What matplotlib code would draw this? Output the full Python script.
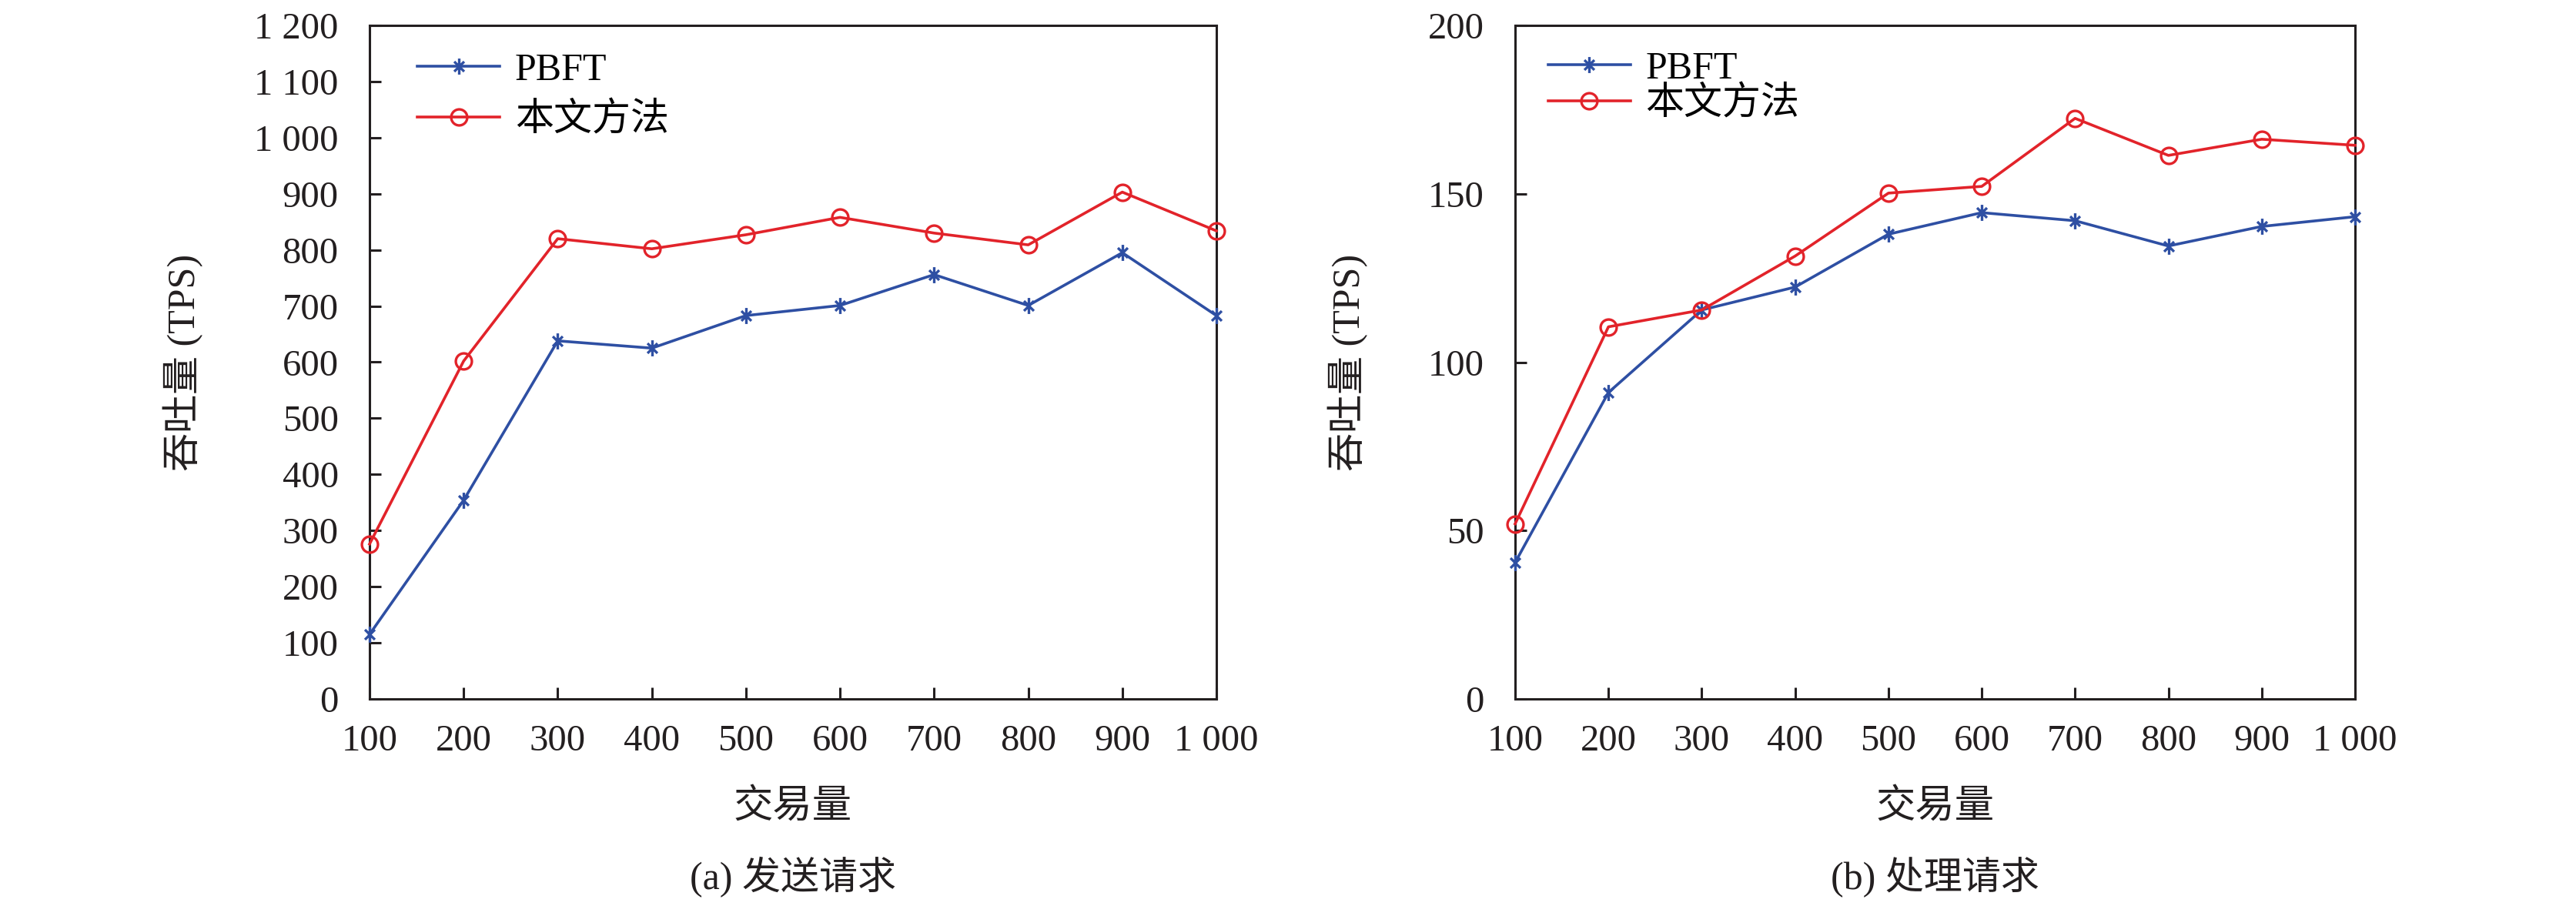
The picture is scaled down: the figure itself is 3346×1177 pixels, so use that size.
import matplotlib
matplotlib.use("Agg")
import matplotlib.pyplot as plt
from matplotlib.path import Path
from matplotlib.ticker import FuncFormatter

plt.rcParams['font.family'] = ['Liberation Serif', 'Noto Sans CJK SC']
plt.rcParams['font.size'] = 35

# data
x_tx = [100, 200, 300, 400, 500, 600, 700, 800, 900, 1000]

# (a) send requests
pbft_send = [115, 354, 638, 625, 683, 701, 756, 701, 795, 683]
ours_send = [276, 602, 820, 802, 827, 858, 830, 809, 903, 834]

# (b) process requests
pbft_proc = [40.5, 91, 115.5, 122.3, 138, 144.4, 142, 134.5, 140.3, 143.2]
ours_proc = [52, 110.5, 115.5, 131.5, 150.2, 152.2, 172.4, 161.4, 166.2, 164.4]

labels = ['PBFT', '本文方法']
subtitles = ['(a) 发送请求', '(b) 处理请求']
xlabel = '交易量'
ylabel = '吞吐量 (TPS)'

BLUE = '#2E4FA3'
RED = '#E2232A'
INK = '#231f20'

# excel style star: vertical bar plus an x
d = 0.62
star = Path([(0, -1), (0, 1), (-d, -d), (d, d), (-d, d), (d, -d)],
            [Path.MOVETO, Path.LINETO, Path.MOVETO, Path.LINETO, Path.MOVETO, Path.LINETO])


def thousands(v, pos):
    v = int(round(v))
    if v >= 1000:
        return f"{v // 1000} {v % 1000:03d}"
    return str(v)


fig = plt.figure(figsize=(33.46, 11.77), dpi=100)
ax1 = fig.add_axes([480 / 3346, 1 - 908 / 1177, 1100 / 3346, 875 / 1177])
ax2 = fig.add_axes([1968 / 3346, 1 - 908 / 1177, 1091 / 3346, 875 / 1177])

panels = [
    (ax1, pbft_send, ours_send, (0, 1200), range(0, 1201, 100), -0.196, (0.0564, 0.96), 0.37),
    (ax2, pbft_proc, ours_proc, (0, 200), range(0, 201, 50), -0.175, (0.039, 0.962), 0.0),
]

for i, (ax, pbft, ours, ylim, yt, ylab_x, leg_pos, lspace) in enumerate(panels):
    ax.plot(x_tx, pbft, color=BLUE, lw=2.6, marker=star, ms=15, mew=2.4,
            label=labels[0], clip_on=False, zorder=3)
    ax.plot(x_tx, ours, color=RED, lw=2.6, marker='o', ms=15, mew=2.4,
            mfc='none', label=labels[1], clip_on=False, zorder=4)

    ax.set_xlim(100, 1000)
    ax.set_ylim(*ylim)
    ax.set_xticks(x_tx)
    ax.set_yticks(list(yt))
    ax.xaxis.set_major_formatter(FuncFormatter(thousands))
    ax.yaxis.set_major_formatter(FuncFormatter(thousands))

    for s in ax.spines.values():
        s.set_linewidth(2.2)
        s.set_color(INK)
    ax.tick_params(axis='both', direction='in', length=10.5, width=2.2,
                   colors=INK, labelcolor=INK, labelsize=35)
    ax.tick_params(axis='x', pad=24)
    ax.tick_params(axis='y', pad=29)

    ax.set_ylabel(ylabel, fontsize=36, color=INK)
    ax.yaxis.set_label_coords(ylab_x, 0.5)
    ax.set_xlabel(xlabel, fontsize=37, color=INK)
    ax.xaxis.set_label_coords(0.5, -0.161)
    ax.xaxis.label.set_va('center')

    ax.text(0.5, -0.265, subtitles[i], transform=ax.transAxes, ha='center',
            va='center', fontsize=36, color=INK)

    ax.legend(loc='upper left', bbox_to_anchor=leg_pos, frameon=False,
              borderpad=0, borderaxespad=0, handlelength=2.14,
              handletextpad=0.4, labelspacing=lspace, fontsize=36)

fig.savefig('out.png', dpi=100)
